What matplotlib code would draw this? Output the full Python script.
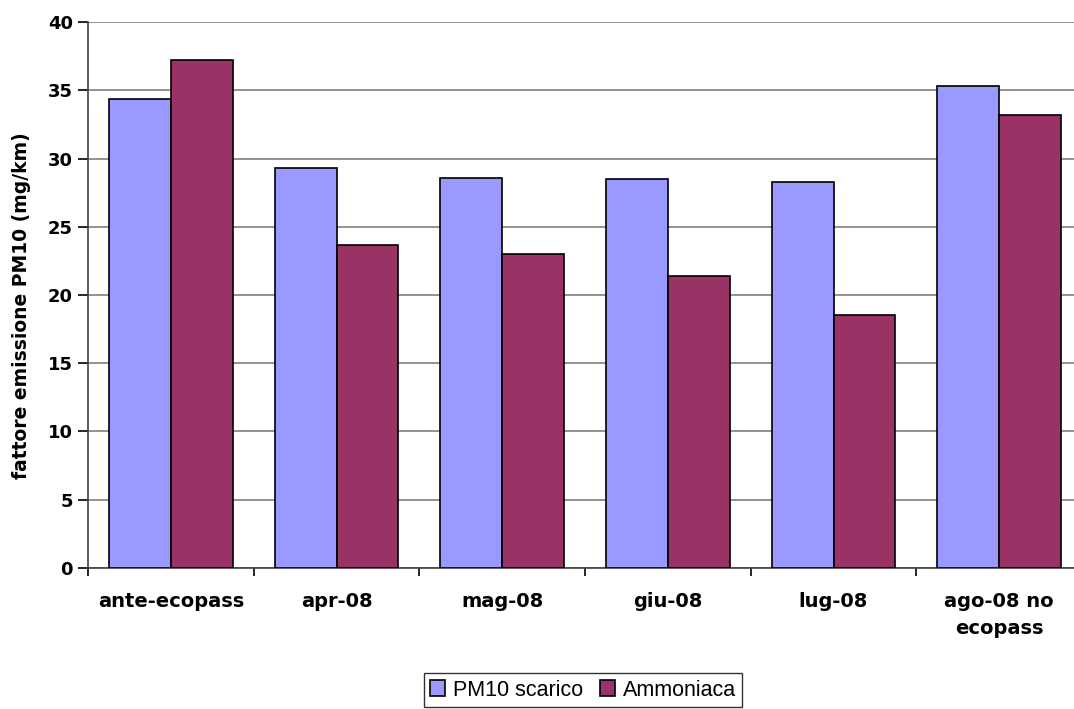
import matplotlib.pyplot as plt
import numpy as np

categories = ["ante-ecopass", "apr-08", "mag-08", "giu-08", "lug-08", "ago-08 no\necopass"]
pm10_scarico = [34.4, 29.3, 28.6, 28.5, 28.3, 35.3]
ammoniaca = [37.2, 23.7, 23.0, 21.4, 18.5, 33.2]

plt.rcParams["font.family"] = ["Liberation Sans", "DejaVu Sans"]
BOLD_FONT = "DejaVu Sans"  # wider glyphs, close to the spaced-out bold text of the original

fig = plt.figure(figsize=(10.74, 7.09), dpi=100)
# axes run slightly past the right edge of the picture, like the original
ax = fig.add_axes([88 / 1074, 1 - 567.7 / 709, 994 / 1074, 545.4 / 709])

x = np.arange(len(categories))
w = 0.374
ax.bar(x - w / 2, pm10_scarico, w, color="#9999FF", edgecolor="black",
       linewidth=1.2, label="PM10 scarico", zorder=3)
ax.bar(x + w / 2, ammoniaca, w, color="#993366", edgecolor="black",
       linewidth=1.2, label="Ammoniaca", zorder=3)

ax.set_xlim(-0.5, 5.5)
ax.set_ylim(0, 40)
ax.set_yticks(range(0, 41, 5))
ax.yaxis.grid(True, color="#808080", linewidth=1.2, zorder=0)
ax.tick_params(axis="y", length=7, width=1.2, pad=4)
for lab in ax.get_yticklabels():
    lab.set_fontweight("bold")
    lab.set_family(BOLD_FONT)
    lab.set_fontsize(13)

# category ticks sit on group boundaries
ax.set_xticks(np.arange(-0.5, 6, 1))
ax.set_xticklabels([])
ax.tick_params(axis="x", length=6, width=1.2)
for i, c in enumerate(categories):
    ax.text(i, -1.75, c, ha="center", va="top", fontsize=14, family=BOLD_FONT,
            fontweight="bold", linespacing=1.55)

for s in ["top", "right"]:
    ax.spines[s].set_visible(False)
for s in ["left", "bottom"]:
    ax.spines[s].set_linewidth(1.2)
    ax.spines[s].set_color("#404040")

fig.text(22 / 1074, 1 - 306 / 709, "fattore emissione PM10 (mg/km)",
         rotation=90, ha="center", va="center", fontsize=13.5,
         family=BOLD_FONT, fontweight="bold")

leg = fig.legend(loc="center", bbox_to_anchor=(583 / 1074, 1 - 690 / 709),
                 ncol=2, fontsize=15.5, frameon=True, fancybox=False,
                 edgecolor="black", handlelength=0.7, handleheight=0.7,
                 handletextpad=0.35, columnspacing=0.8, borderpad=0.3)
leg.get_frame().set_linewidth(1.0)

fig.savefig("out.png", dpi=100)
